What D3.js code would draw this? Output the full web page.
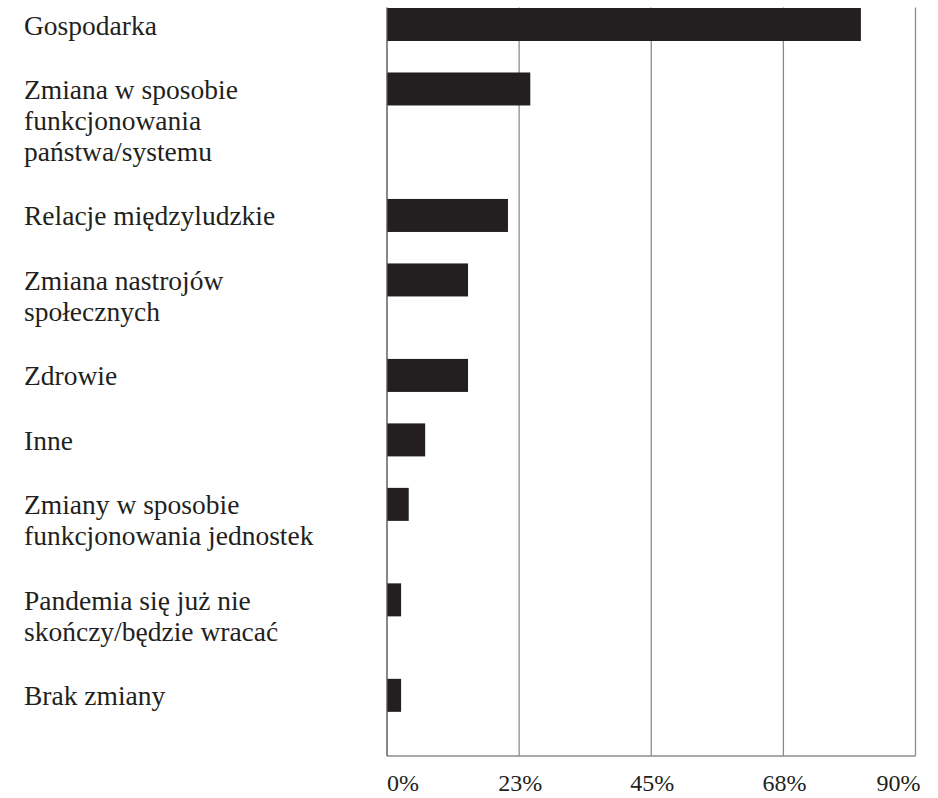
<!DOCTYPE html>
<html lang="pl">
<head>
<meta charset="utf-8">
<script src="https://cdn.jsdelivr.net/npm/d3@7"></script>
<style>
  html, body { margin: 0; padding: 0; background: #ffffff; }
  svg { display: block; }
  text { font-family: "Liberation Serif", "DejaVu Serif", serif; fill: #231f20; }
</style>
</head>
<body>
<svg id="chart" width="938" height="798"></svg>
<script>
// Answer categories (each inner array = wrapped label lines)
const categories = [
  ["Gospodarka"],
  ["Zmiana w sposobie", "funkcjonowania", "państwa/systemu"],
  ["Relacje międzyludzkie"],
  ["Zmiana nastrojów", "społecznych"],
  ["Zdrowie"],
  ["Inne"],
  ["Zmiany w sposobie", "funkcjonowania jednostek"],
  ["Pandemia się już nie", "skończy/będzie wracać"],
  ["Brak zmiany"]
];

// Share of answers, in percent
const values = [80.7, 24.4, 20.6, 13.8, 13.8, 6.5, 3.7, 2.4, 2.4];

// Axis ticks and their labels
const tickValues = [0, 22.5, 45, 67.5, 90];
const tickLabels = ["0%", "23%", "45%", "68%", "90%"];

const svg = d3.select("#chart");

const plotLeft = 387, plotRight = 915.5, plotTop = 8, plotBottom = 756;
const lineHeight = 31;
const barHeight = 33;
const rowGap = 1.08;           // space between rows, in label-line units

const x = d3.scaleLinear().domain([0, 90]).range([plotLeft, plotRight]);

// Rows grow with the number of label lines; y maps cumulative line units to pixels
const offsets = [];
let acc = 0;
categories.forEach(c => { offsets.push(acc); acc += c.length + rowGap; });
const y = d3.scaleLinear().domain([0, 1]).range([plotTop, plotTop + lineHeight]);

// Gridlines
svg.append("g")
  .selectAll("line")
  .data(tickValues.slice(1))
  .join("line")
  .attr("x1", d => x(d)).attr("x2", d => x(d))
  .attr("y1", plotTop - 0.5).attr("y2", plotBottom)
  .attr("stroke", "#8c8c8c")
  .attr("stroke-width", 1.3);

// Bottom baseline
svg.append("line")
  .attr("x1", x(0)).attr("x2", x(90))
  .attr("y1", plotBottom).attr("y2", plotBottom)
  .attr("stroke", "#8c8c8c")
  .attr("stroke-width", 1.3);

// Bars
const data = categories.map((c, i) => ({ lines: c, value: values[i], off: offsets[i] }));

svg.append("g")
  .selectAll("rect")
  .data(data)
  .join("rect")
  .attr("x", x(0))
  .attr("y", d => y(d.off))
  .attr("width", d => x(d.value) - x(0))
  .attr("height", barHeight)
  .attr("fill", "#231f20");

// Left axis line
svg.append("line")
  .attr("x1", x(0)).attr("x2", x(0))
  .attr("y1", plotTop - 0.5).attr("y2", plotBottom)
  .attr("stroke", "#555555")
  .attr("stroke-width", 1.4);

// Category labels, first line centred on the bar
const labels = svg.append("g")
  .selectAll("text")
  .data(data)
  .join("text")
  .attr("x", 24)
  .attr("y", d => y(d.off) + barHeight / 2)
  .attr("dominant-baseline", "central")
  .style("font-size", "27.5px");

labels.selectAll("tspan")
  .data(d => d.lines.map((t, k) => ({ t, k })))
  .join("tspan")
  .attr("x", 24)
  .attr("dy", d => d.k === 0 ? 0 : lineHeight)
  .text(d => d.t);

// Tick labels: first flush left, last flush right, others centred
svg.append("g")
  .selectAll("text")
  .data(tickValues)
  .join("text")
  .attr("x", (d, i) => i === 0 ? x(d) : i === tickValues.length - 1 ? x(d) + 5 : x(d) + 1)
  .attr("y", 791)
  .attr("text-anchor", (d, i) => i === 0 ? "start" : i === tickValues.length - 1 ? "end" : "middle")
  .style("font-size", "24px")
  .text((d, i) => tickLabels[i]);
</script>
</body>
</html>
